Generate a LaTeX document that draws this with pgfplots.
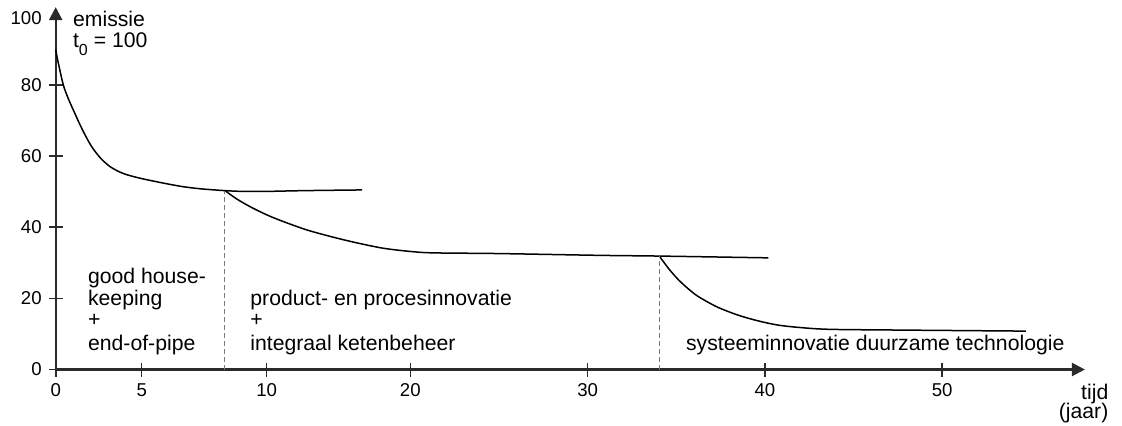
\documentclass[border=0pt]{standalone}
\usepackage{fontspec}
\setmainfont{Liberation Sans}
\usepackage{pgfplots}
\pgfplotsset{compat=1.18}
\usetikzlibrary{arrows.meta}
\definecolor{axisgray}{HTML}{2B2B2B}
\definecolor{dashgray}{HTML}{7A7A7A}
\newcommand{\txt}{\fontsize{10.6}{11.1}\selectfont}
\begin{document}
\begin{tikzpicture}
\useasboundingbox (-27.85pt,-27.75pt) rectangle (533.15pt,184.75pt);
\begin{axis}[
  at={(0pt,0pt)}, anchor=south west,
  scale only axis, width=514.61pt, height=181.18pt,
  xmin=0, xmax=58.05, ymin=0, ymax=101.9,
  enlargelimits=false,
  axis lines=left,
  axis line style={line width=1.1pt, color=axisgray, -{Triangle[length=6.5pt,width=6.5pt]}},
  every tick/.style={draw=axisgray, line width=0.8pt},
  major tick length=7pt,
  tick align=center,
  xtick={0,4.85,11.9,20,30,40,50},
  xticklabels={0,5,10,20,30,40,50},
  ytick={0,20,40,60,80},
  extra y ticks={98.8},
  extra y tick labels={100},
  extra y tick style={every tick/.style={draw=none}},
  ticklabel style={font=\fontsize{9.3}{11}\selectfont, text=black},
  /pgf/number format/assume math mode=true,
  clip=false,
  no marks,
]
\addplot[black, line width=0.75pt, smooth, tension=0.5] coordinates {
 (0,90) (0.1,87.3) (0.2,85) (0.43,80) (0.7,76.3) (1.0,72.9) (1.5,67.5)
 (2.0,62.9) (2.5,59.6) (3.0,57.3) (3.5,55.8) (4.0,54.8) (4.75,53.8)
 (5.5,53.0) (6.3,52.2) (7.2,51.4) (8.2,50.8) (9.55,50.3)
 (10.5,50.1) (12,50.1) (14,50.3) (17.28,50.5)};
\addplot[black, line width=0.75pt, smooth, tension=0.5] coordinates {
 (9.55,50.3) (10.2,48) (10.96,45.8) (11.9,43.5) (12.84,41.6) (14.2,39.2)
 (15.66,37.2) (17,35.6) (18.48,34.1) (20,33.2) (21.3,32.8) (25.06,32.6)
 (30.7,32.1) (34.03,31.9) (40.2,31.4)};
\addplot[black, line width=0.75pt, smooth, tension=0.5] coordinates {
 (34.04,31.9) (34.6,28.2) (35.13,25.2) (35.7,22.6) (36.25,20.5) (37.3,17.6)
 (38.48,15.3) (39.6,13.7) (40.73,12.5) (42,11.8) (43.64,11.3) (47.44,11.1)
 (54.72,10.8)};
\addplot[line width=0.5pt, dashgray, dash pattern=on 2.5pt off 1.5pt] coordinates {(9.51,0) (9.51,50.3)};
\addplot[line width=0.5pt, dashgray, dash pattern=on 2.5pt off 1.5pt] coordinates {(34.04,0) (34.04,31.9)};
\end{axis}
\begin{scope}[every node/.style={inner sep=0pt, font=\txt}]
\node[anchor=base west] at (8.5pt,171.4pt) {emissie};
\node[anchor=base west] at (8.5pt,160.9pt) {t\raisebox{-4pt}{\fontsize{8}{9}\selectfont 0} = 100};
\node[anchor=base west] at (16pt,43.1pt) {good house-};
\node[anchor=base west] at (16pt,32.25pt) {keeping};
\node[anchor=base west] at (16pt,21.4pt) {+};
\node[anchor=base west] at (16pt,9.75pt) {end-of-pipe};
\node[anchor=base west] at (97.15pt,32.25pt) {product- en procesinnovatie};
\node[anchor=base west] at (97.15pt,21.4pt) {+};
\node[anchor=base west] at (97.15pt,9.75pt) {integraal ketenbeheer};
\node[anchor=base west] at (315pt,9.75pt) {systeeminnovatie duurzame technologie};
\node[anchor=base east] at (526.5pt,-14.75pt) {tijd};
\node[anchor=base east] at (526.5pt,-24.25pt) {(jaar)};
\end{scope}
\end{tikzpicture}
\end{document}
